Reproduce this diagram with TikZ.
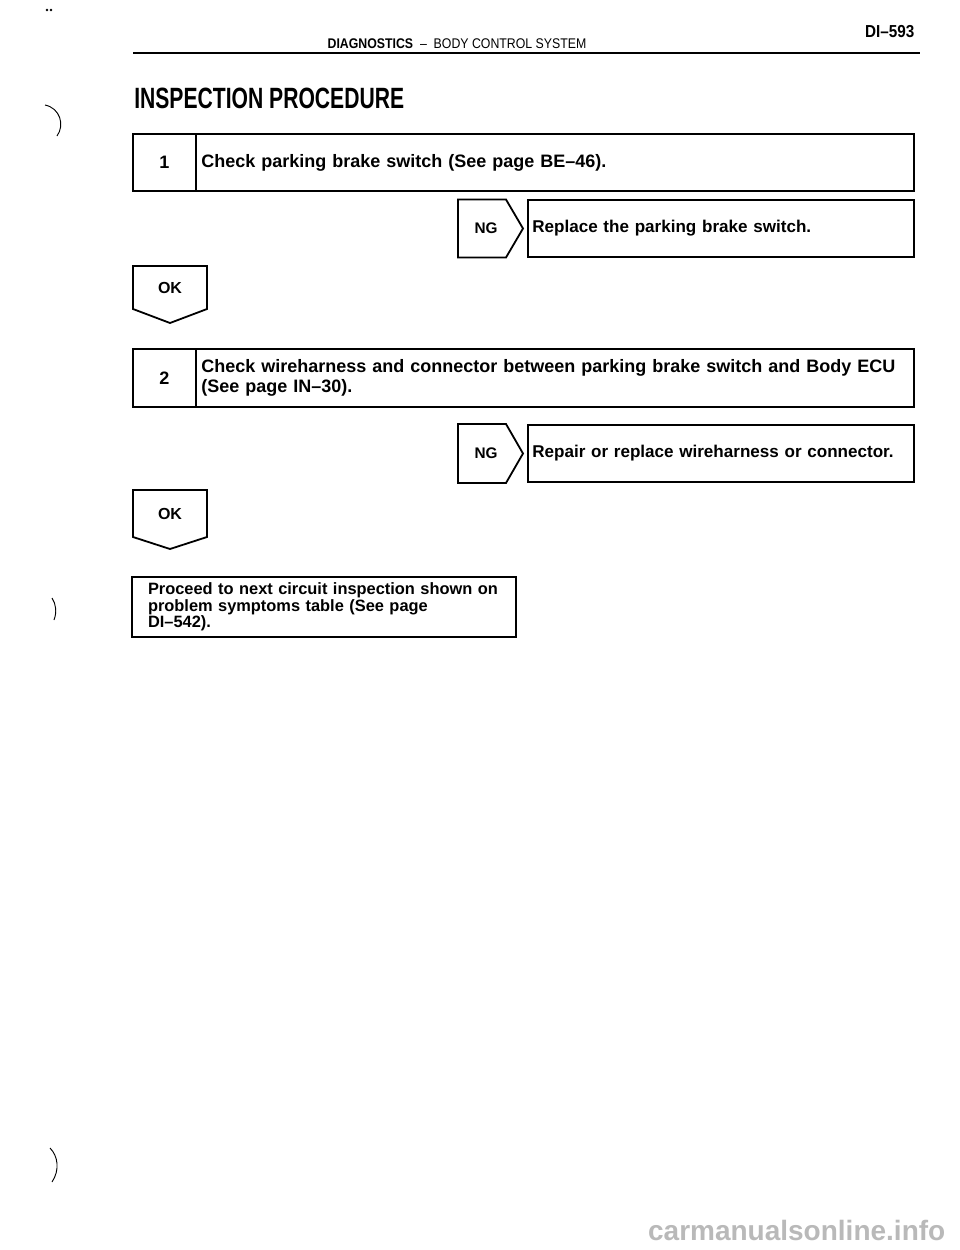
\documentclass[tikz,border=0pt]{standalone}
\usepackage{fontspec}
\setmainfont{Liberation Sans}
\newfontfamily\condfont[FakeStretch=0.72, Ligatures=TeX]{Liberation Sans}
\newfontfamily\narrowfont[FakeStretch=0.88, Ligatures=TeX]{Liberation Sans}
\usetikzlibrary{positioning, calc}

\begin{document}
\begin{tikzpicture}[
    x=0.75pt, y=-0.75pt,
    node distance=0pt,
    cell/.style={rectangle, draw, line width=1.35pt, outer sep=0pt, inner sep=4pt, font=\fontsize{13.5}{15}\selectfont\bfseries},
    numcell/.style={cell, minimum width=47.25pt, minimum height=42.75pt},
    textcell/.style={cell, minimum height=42.75pt, text width=#1, align=left},
    replycell/.style={cell, minimum height=42.75pt, inner xsep=3.25pt, text width=283pt, align=left, font=\fontsize{12.8}{14}\selectfont\bfseries},
    tag/.style={rectangle, outer sep=0pt, inner sep=0pt, font=\fontsize{11.5}{12}\selectfont\bfseries},
    tagline/.style={line width=1.35pt, line join=miter},
    scan/.style={line width=0.7pt}
]
\useasboundingbox (0,0) rectangle (960,1250);

\node[anchor=base east, font=\narrowfont\fontsize{13}{14}\selectfont\bfseries] (page) at (919,37) {DI--593};
\node[anchor=base, font=\narrowfont\fontsize{10.5}{11}\selectfont] (sect) at (457,48) {\textbf{DIAGNOSTICS}\ \ --\ \ BODY CONTROL SYSTEM};
\coordinate (ruleL) at (133,53);
\coordinate (ruleR) at (920,53);
\draw[line width=1.5pt] (ruleL) -- (ruleR);
\node[anchor=base west, inner sep=0pt, font=\condfont\fontsize{22}{23}\selectfont\bfseries] (title) at (134,108) {INSPECTION PROCEDURE};

\node[numcell] (n1) at (164.5,162.5) {1};
\node[textcell=530.5pt, right=of n1] (s1) {Check parking brake switch (See page BE--46).};

\node[tag, minimum width=36pt, minimum height=43.5pt] (ng1) at (482,228.5) {\hspace*{6pt}NG};
\draw[tagline] (ng1.north west) -- (ng1.north east) -- ($(ng1.east)+(17,0)$) -- (ng1.south east) -- (ng1.south west) -- cycle;
\node[replycell, right=16.5pt of ng1] (r1) {Replace the parking brake switch.};

\node[tag, font=\fontsize{12}{13}\selectfont\bfseries, minimum width=55.5pt, minimum height=32.25pt] (ok1) at (170,287.5) {OK};
\draw[tagline] (ok1.south west) -- (ok1.north west) -- (ok1.north east) -- (ok1.south east) -- ($(ok1.south)+(0,14)$) -- cycle;

\node[numcell, minimum height=43.5pt] (n2) at (164.5,378) {2};
\node[textcell=530.5pt, minimum height=43.5pt, right=of n2] (s2) {Check wireharness and connector between parking brake switch and Body ECU\\(See page IN--30).};

\node[tag, minimum width=36pt, minimum height=44.25pt] (ng2) at (482,453.5) {\hspace*{6pt}NG};
\draw[tagline] (ng2.north west) -- (ng2.north east) -- ($(ng2.east)+(17,0)$) -- (ng2.south east) -- (ng2.south west) -- cycle;
\node[replycell, right=16.5pt of ng2] (r2) {Repair or replace wireharness or connector.};

\node[tag, font=\fontsize{12}{13}\selectfont\bfseries, minimum width=55.5pt, minimum height=35.25pt] (ok2) at (170,513.5) {OK};
\draw[tagline] (ok2.south west) -- (ok2.north west) -- (ok2.north east) -- (ok2.south east) -- ($(ok2.south)+(0,12)$) -- cycle;

\node[cell, font=\fontsize{12.3}{10.5}\selectfont\bfseries, inner xsep=12pt, inner ysep=3pt, text width=264pt, minimum height=45pt, align=left, anchor=north west] (last) at (132,577) {Proceed to next circuit inspection shown on\\problem symptoms table (See page\\DI--542).};

\draw[scan] (45,105) .. controls (60,108) and (65,125) .. (57,136);
\draw[scan] (52,598) .. controls (56,604) and (57,612) .. (54,620);
\draw[scan] (50,1148) .. controls (58,1156) and (60,1170) .. (52,1182);
\fill (47,10) circle (1pt) (51,10) circle (1pt);

\node[anchor=base east, text=gray!55, font=\fontsize{21}{22}\selectfont\bfseries] (mark) at (950,1240) {carmanualsonline.info};
\end{tikzpicture}
\end{document}
